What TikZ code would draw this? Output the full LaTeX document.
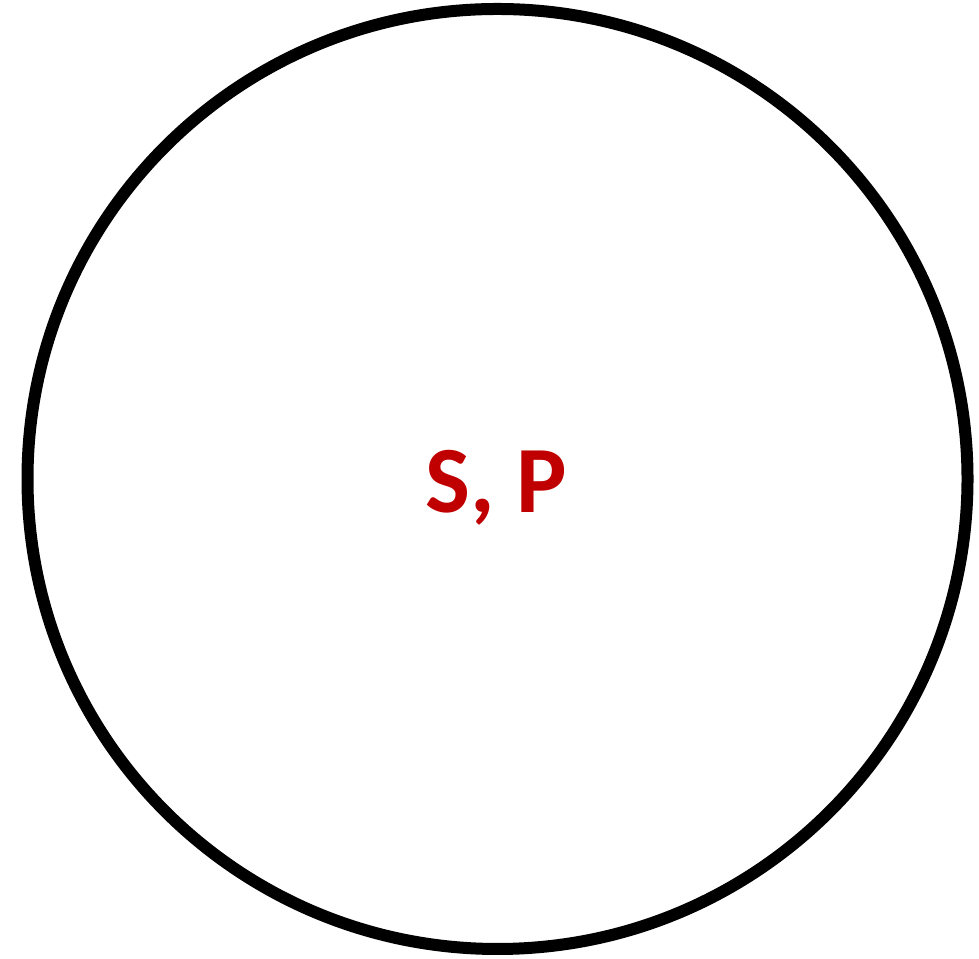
\documentclass[tikz,border=0pt]{standalone}
\usepackage{fontspec}
\setmainfont{Carlito}
\usepackage{tikz}
\definecolor{darkred}{HTML}{C00000}

\begin{document}
\begin{tikzpicture}[
    ring/.style={draw=black, line width=0.12cm},
    label/.style={font=\fontsize{27}{32}\selectfont\bfseries, text=darkred, inner sep=0pt}
]
    \useasboundingbox (0,0) rectangle (9.79,9.59);

    % Outer circle
    \draw[ring] (4.975,4.80) circle (4.70);

    % Centre label
    \node[label, anchor=base] (sp) at (4.965,4.46) {S, P};
\end{tikzpicture}
\end{document}
